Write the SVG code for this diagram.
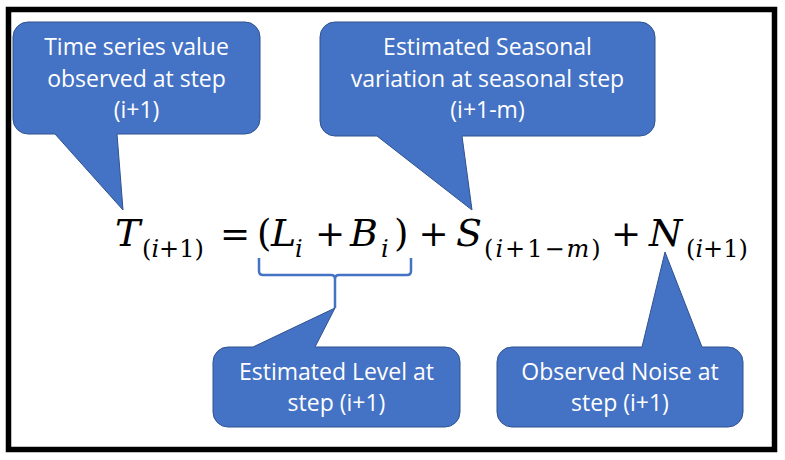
<svg xmlns="http://www.w3.org/2000/svg" width="785" height="460" viewBox="0 0 785 460">
<style>
.call{fill:#4472C4;stroke:#2F528F;stroke-width:1}
.lbl{font-family:"Open Sans","Liberation Sans",sans-serif;font-size:23px;fill:#FFFFFF;text-anchor:middle}
.m{font-family:"DejaVu Serif","Liberation Serif",serif;font-size:38px;fill:#000;font-style:italic}
.op{font-family:"DejaVu Serif","Liberation Serif",serif;font-size:36px;fill:#000;text-anchor:middle}
.p{font-family:"DejaVu Serif","Liberation Serif",serif;font-size:37px;fill:#000}
.sub{font-family:"DejaVu Serif","Liberation Serif",serif;font-size:24px;fill:#000}
.it{font-style:italic}
.brace{fill:none;stroke:#4472C4;stroke-width:2.5;stroke-linejoin:round}
</style>
<rect x="0" y="0" width="785" height="460" fill="#FFFFFF"/>
<rect x="8.5" y="9.5" width="766" height="440" fill="#FFFFFF" stroke="#000000" stroke-width="5.5"/>

<g id="formula">
  <text class="m" x="115" y="246">T</text>
  <text class="sub" x="142" y="257">(<tspan class="it">i</tspan>+1)</text>
  <text class="op" x="235" y="246">=</text>
  <text class="p" x="257" y="246">(</text>
  <text class="m" x="271" y="246">L</text>
  <text class="sub it" x="295" y="257">i</text>
  <text class="op" x="330" y="246">+</text>
  <text class="m" x="350" y="246">B</text>
  <text class="sub it" x="381" y="257">i</text>
  <text class="p" x="394" y="246">)</text>
  <text class="op" x="433.5" y="246">+</text>
  <text class="m" x="456" y="246">S</text>
  <text class="sub" x="484" y="257" letter-spacing="2">(<tspan class="it">i</tspan>+1−<tspan class="it">m</tspan>)</text>
  <text class="op" x="626" y="246">+</text>
  <text class="m" x="649" y="246">N</text>
  <text class="sub" x="686" y="257">(<tspan class="it">i</tspan>+1)</text>
</g>

<g id="connectors">
  <path class="brace" d="M259,258 V271 Q259,275 263,275 H331 Q335,275 335,279 V308 M335,279 Q335,275 339,275 H407 Q411,275 411,271 V258"/>
</g>

<g id="callout-time">
  <path class="call" d="M28,22 H245 A15,15 0 0 1 260,37 V119 A15,15 0 0 1 245,134 H117 L123,210 L55,134 H28 A15,15 0 0 1 13,119 V37 A15,15 0 0 1 28,22 Z"/>
  <text class="lbl" x="136.5" y="55">Time series value</text>
  <text class="lbl" x="136.5" y="87">observed at step</text>
  <text class="lbl" x="136.5" y="118">(i+1)</text>
</g>

<g id="callout-seasonal">
  <path class="call" d="M335,22 H640 A15,15 0 0 1 655,37 V121 A15,15 0 0 1 640,136 H462 L472,210 L377,136 H335 A15,15 0 0 1 320,121 V37 A15,15 0 0 1 335,22 Z"/>
  <text class="lbl" x="487.5" y="55">Estimated Seasonal</text>
  <text class="lbl" x="487.5" y="87">variation at seasonal step</text>
  <text class="lbl" x="487.5" y="118">(i+1-m)</text>
</g>

<g id="callout-level">
  <path class="call" d="M228,347 H253 L335,308 L315,347 H445 A15,15 0 0 1 460,362 V412 A15,15 0 0 1 445,427 H228 A15,15 0 0 1 213,412 V362 A15,15 0 0 1 228,347 Z"/>
  <text class="lbl" x="336.5" y="380">Estimated Level at</text>
  <text class="lbl" x="336.5" y="411">step (i+1)</text>
</g>

<g id="callout-noise">
  <path class="call" d="M512,347 H642 L665,252 L702,347 H728 A15,15 0 0 1 743,362 V412 A15,15 0 0 1 728,427 H512 A15,15 0 0 1 497,412 V362 A15,15 0 0 1 512,347 Z"/>
  <text class="lbl" x="620" y="380">Observed Noise at</text>
  <text class="lbl" x="620" y="411">step (i+1)</text>
</g>
</svg>
